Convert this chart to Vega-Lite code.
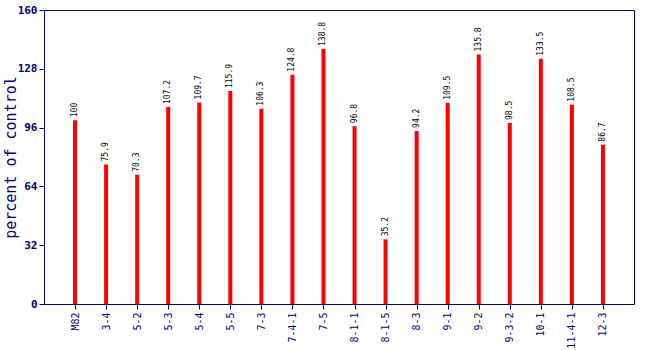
{
  "$schema": "https://vega.github.io/schema/vega-lite/v6.json",
  "autosize": {"type": "none"},
  "width": 590,
  "height": 294,
  "padding": {"left": 44, "top": 10, "right": 16, "bottom": 46},
  "background": "white",
  "config": {
    "view": {"stroke": "#000080", "strokeWidth": 1},
    "axis": {"grid": false, "domainColor": "#000080", "tickColor": "#000080", "labelColor": "#000080", "titleColor": "#000080", "labelFont": "DejaVu Sans Mono", "titleFont": "DejaVu Sans Mono"}
  },
  "data": {
    "values": [
      {"line": "M82", "value": 100, "label": "100"},
      {"line": "3-4", "value": 75.9, "label": "75.9"},
      {"line": "5-2", "value": 70.3, "label": "70.3"},
      {"line": "5-3", "value": 107.2, "label": "107.2"},
      {"line": "5-4", "value": 109.7, "label": "109.7"},
      {"line": "5-5", "value": 115.9, "label": "115.9"},
      {"line": "7-3", "value": 106.3, "label": "106.3"},
      {"line": "7-4-1", "value": 124.8, "label": "124.8"},
      {"line": "7-5", "value": 138.8, "label": "138.8"},
      {"line": "8-1-1", "value": 96.8, "label": "96.8"},
      {"line": "8-1-5", "value": 35.2, "label": "35.2"},
      {"line": "8-3", "value": 94.2, "label": "94.2"},
      {"line": "9-1", "value": 109.5, "label": "109.5"},
      {"line": "9-2", "value": 135.8, "label": "135.8"},
      {"line": "9-3-2", "value": 98.5, "label": "98.5"},
      {"line": "10-1", "value": 133.5, "label": "133.5"},
      {"line": "11-4-1", "value": 108.5, "label": "108.5"},
      {"line": "12-3", "value": 86.7, "label": "86.7"}
    ]
  },
  "encoding": {
    "x": {
      "field": "line", "type": "nominal", "sort": null,
      "scale": {"type": "point", "padding": 1},
      "axis": {"title": null, "labelAngle": -90, "labelFontSize": 10, "labelAlign": "right", "labelBaseline": "middle", "tickSize": 5, "labelPadding": 3}
    }
  },
  "layer": [
    {
      "mark": {"type": "rule", "color": "#ff0000", "strokeWidth": 4},
      "encoding": {
        "y": {
          "field": "value", "type": "quantitative",
          "scale": {"domain": [0, 160], "nice": false},
          "axis": {"title": "percent of control", "titleFontSize": 15, "titleFontWeight": "normal", "titleX": -26, "titleY": 147, "titleAngle": -90, "titleAlign": "center", "titleBaseline": "bottom", "values": [0, 32, 64, 96, 128, 160], "labelFontSize": 11, "labelFontWeight": "bold", "tickSize": 5, "labelPadding": 2}
        },
        "y2": {"datum": 0}
      }
    },
    {
      "mark": {"type": "text", "angle": -90, "align": "left", "baseline": "middle", "dx": 3, "font": "DejaVu Sans Mono", "fontSize": 8, "color": "black"},
      "encoding": {
        "y": {"field": "value", "type": "quantitative"},
        "text": {"field": "label"}
      }
    }
  ]
}
